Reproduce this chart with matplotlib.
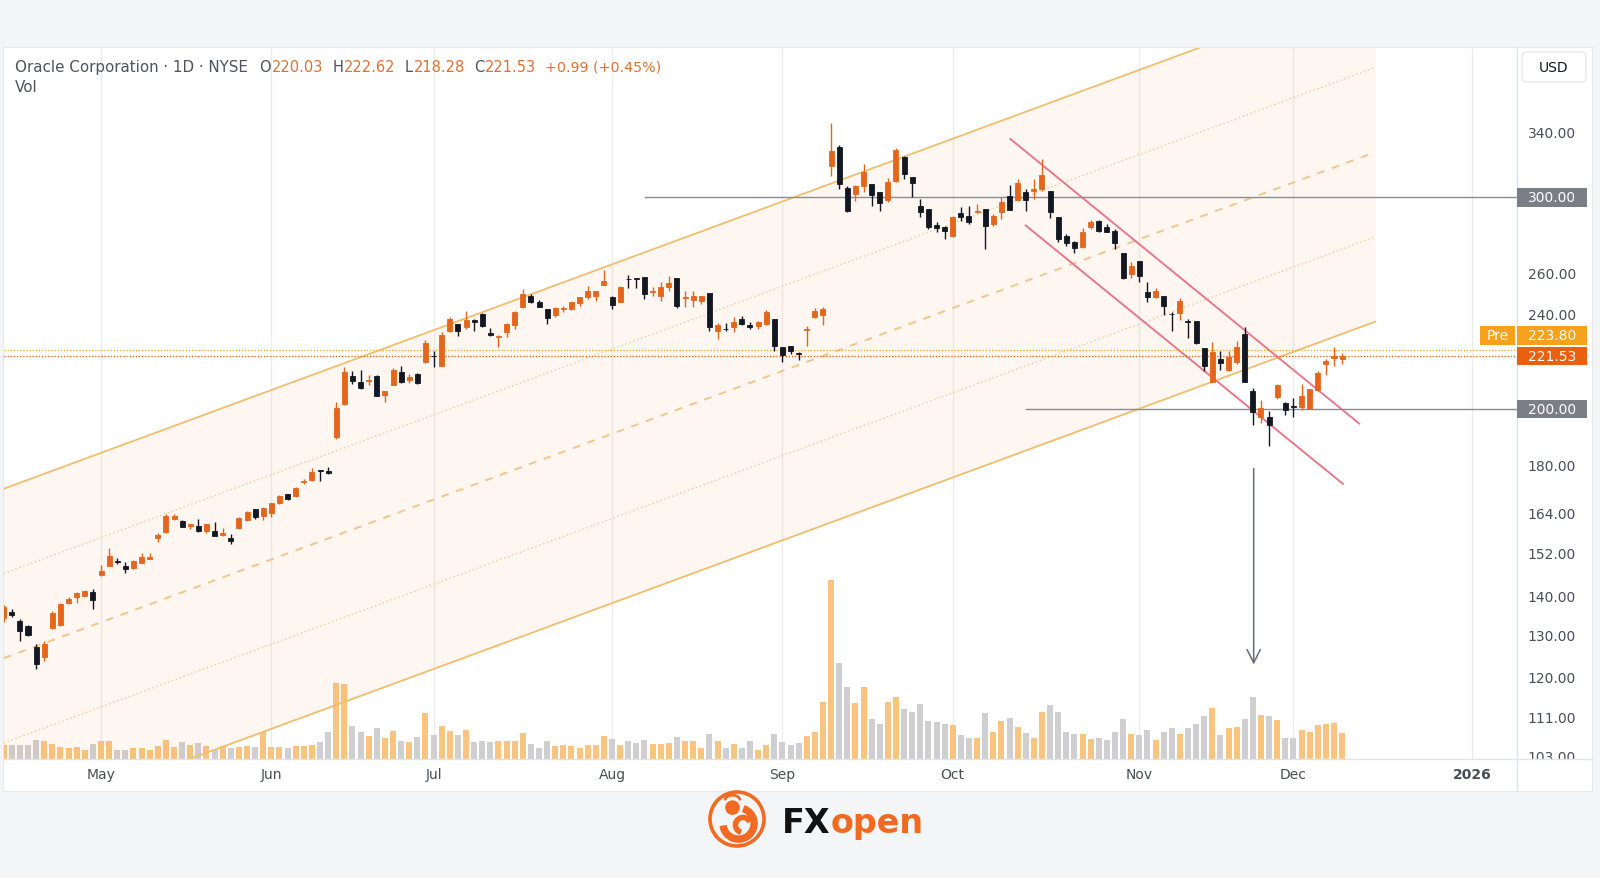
import numpy as np
import pandas as pd
import matplotlib
matplotlib.use("Agg")
import matplotlib.pyplot as plt
from matplotlib.patches import Rectangle, FancyBboxPatch, Circle, Wedge, Arc
from matplotlib.transforms import IdentityTransform
from matplotlib.ticker import NullLocator

plt.rcParams['font.family'] = ['DejaVu Sans']

# ORCL daily bars, 14 Apr 2025 .. 9 Dec 2025
opens = [134.0, 135.7, 133.3, 132.0, 127.0, 124.4, 131.5, 132.3, 137.9, 139.5, 140.0, 141.1,
         145.5, 148.3, 149.6, 148.1, 147.5, 149.1, 150.3, 156.2, 158.0, 162.2, 161.6, 160.0, 159.8, 158.5, 158.5,
         157.3, 156.2, 159.3, 161.8, 165.2, 163.1,
         164.0, 167.0, 170.1, 169.4, 173.9, 174.7, 178.0, 177.7, 189.5, 202.0, 213.2, 210.8, 211.0, 213.2, 205.5,
         209.5, 214.9, 211.6, 213.9, 218.8,
         221.6, 217.4, 232.4, 235.4, 233.9, 237.2, 240.0, 231.3, 229.8, 232.0, 235.0, 243.1, 248.5, 245.7, 242.3,
         239.5, 242.5, 242.3, 245.1, 247.8, 248.2, 253.8,
         248.1, 245.7, 256.6, 257.0, 257.4, 250.3, 248.2, 252.5, 257.1, 247.6, 246.6, 245.9, 249.7, 232.4, 233.4,
         233.9, 237.7, 235.0, 234.6, 235.4, 237.7,
         225.4, 225.8, 222.7, 232.8, 238.5, 239.7, 318.7, 330.2, 305.4, 301.9, 306.8, 307.8, 303.3, 298.7, 309.7,
         323.9, 312.1, 295.3, 293.4, 284.5, 283.3,
         278.5, 291.2, 289.3, 291.5, 293.4, 285.1, 291.5, 300.6, 298.7, 303.3, 303.8, 304.8, 303.8, 289.1, 278.5,
         275.3, 272.7, 283.3, 286.9, 283.3, 281.4, 269.5, 259.1,
         265.4, 250.1, 247.8, 248.5, 240.1, 240.4, 236.6, 236.9, 224.9, 210.8, 220.2, 215.7, 218.8, 231.0, 207.2,
         196.9, 196.9, 204.7, 202.3,
         201.2, 200.7, 200.1, 207.6, 218.1, 220.5, 220.03]
highs = [137.5, 136.5, 133.8, 132.3, 127.5, 128.3, 136.0, 138.0, 139.5, 141.1, 141.6, 141.9,
         148.5, 153.3, 150.5, 149.2, 149.8, 152.0, 152.0, 157.9, 163.7, 163.7, 161.8, 160.7, 162.0, 160.6, 161.2,
         159.2, 157.4, 162.7, 164.7, 165.3, 165.8,
         167.2, 169.7, 170.2, 172.4, 174.9, 178.8, 178.1, 179.2, 202.7, 216.7, 215.0, 215.7, 213.5, 213.5, 207.3,
         216.3, 217.1, 213.9, 214.2, 228.5,
         223.7, 231.7, 238.5, 235.6, 241.5, 237.7, 240.3, 233.5, 230.5, 235.9, 241.5, 251.7, 249.3, 246.4, 242.5,
         243.1, 243.8, 245.6, 247.9, 253.3, 251.0, 261.2,
         248.5, 253.0, 258.6, 257.1, 257.6, 252.5, 255.0, 258.2, 257.2, 250.9, 250.9, 248.6, 249.8, 235.9, 235.9,
         238.5, 238.9, 236.5, 236.9, 242.0, 237.8,
         225.5, 225.9, 223.3, 234.4, 242.6, 243.4, 345.9, 331.6, 306.8, 307.2, 319.8, 307.9, 303.4, 311.1, 329.5,
         324.9, 312.2, 299.1, 293.5, 286.0, 284.2,
         289.7, 294.4, 295.3, 296.2, 293.5, 290.6, 300.0, 307.2, 310.7, 304.8, 310.7, 322.9, 303.9, 289.2, 279.7,
         276.1, 282.9, 287.3, 287.3, 285.1, 282.4, 269.6, 265.2,
         265.5, 255.0, 252.1, 248.6, 240.8, 247.4, 237.7, 237.0, 225.0, 227.3, 223.7, 223.7, 228.0, 233.9, 208.1,
         203.7, 199.4, 209.9, 202.7,
         204.3, 209.9, 208.0, 215.3, 220.2, 225.2, 222.62]
lows = [133.0, 134.5, 128.4, 129.5, 121.6, 123.6, 131.3, 132.0, 137.7, 138.1, 139.8, 136.5,
        145.3, 148.2, 148.8, 146.2, 147.3, 149.0, 150.1, 155.1, 157.8, 161.7, 159.6, 159.0, 158.1, 157.7, 156.8,
        157.0, 154.5, 159.1, 161.6, 162.1, 161.8,
        162.7, 166.8, 168.2, 169.1, 173.4, 174.4, 174.4, 176.7, 189.1, 201.6, 210.0, 208.0, 209.5, 205.0, 202.9,
        209.3, 210.5, 210.2, 210.1, 218.6,
        217.0, 217.1, 231.7, 230.0, 233.2, 232.4, 234.3, 230.3, 225.2, 229.5, 233.2, 242.6, 245.2, 243.2, 235.4,
        238.7, 241.0, 242.0, 243.8, 247.0, 246.2, 253.7,
        242.3, 245.5, 252.1, 252.1, 247.0, 248.5, 246.2, 251.0, 242.6, 243.1, 243.1, 244.6, 232.4, 228.8, 232.4,
        231.7, 235.2, 233.2, 233.2, 235.0, 223.7,
        219.0, 222.3, 219.9, 225.8, 238.0, 235.0, 312.7, 304.8, 291.8, 298.1, 303.2, 295.3, 292.5, 297.2, 309.1,
        310.7, 300.0, 288.8, 282.6, 280.9, 277.0,
        277.9, 286.9, 285.1, 291.3, 271.8, 284.2, 287.8, 292.8, 298.1, 292.5, 299.1, 303.8, 288.2, 275.6, 273.2,
        269.7, 272.3, 282.4, 280.6, 280.6, 271.8, 256.6, 256.9,
        255.3, 245.4, 247.4, 239.7, 232.4, 237.4, 229.1, 226.8, 215.3, 210.6, 215.7, 215.3, 218.1, 210.6, 194.0,
        194.8, 186.3, 203.9, 197.9,
        197.2, 199.8, 200.0, 207.2, 213.5, 217.4, 218.28]
closes = [136.9, 134.9, 130.8, 129.9, 122.8, 127.6, 135.4, 137.7, 139.1, 140.8, 141.3, 138.8,
          146.8, 151.1, 149.4, 147.3, 149.6, 150.6, 150.8, 157.2, 163.0, 163.0, 159.6, 160.5, 158.4, 160.5, 157.0,
          157.7, 155.5, 162.4, 164.2, 162.6, 165.7,
          167.0, 169.4, 168.4, 171.9, 174.4, 177.4, 177.8, 176.9, 200.3, 214.9, 211.2, 208.2, 211.4, 205.2, 207.2,
          215.7, 210.6, 212.6, 210.3, 226.9,
          221.3, 230.5, 237.7, 232.4, 237.2, 236.5, 234.7, 230.5, 230.1, 235.4, 241.0, 249.3, 245.4, 243.4, 238.0,
          242.6, 242.8, 245.4, 247.8, 250.6, 250.9, 255.8,
          244.1, 252.8, 256.4, 256.8, 249.3, 250.6, 252.8, 254.5, 243.8, 247.9, 248.5, 248.5, 234.2, 235.0, 233.2,
          236.2, 235.4, 233.9, 236.5, 240.8, 225.8,
          221.9, 223.7, 222.2, 233.3, 241.5, 242.3, 328.0, 307.8, 292.1, 306.8, 314.7, 301.4, 296.6, 308.8, 328.5,
          313.7, 308.4, 291.5, 283.3, 282.8, 281.4,
          288.8, 288.8, 286.0, 292.5, 284.2, 289.3, 297.2, 293.0, 308.4, 298.7, 304.8, 313.3, 291.5, 277.0, 274.9,
          272.1, 280.6, 286.3, 281.1, 280.9, 274.9, 256.9, 262.9,
          257.9, 248.1, 250.9, 243.8, 240.0, 246.2, 236.5, 227.0, 217.4, 223.0, 218.5, 220.9, 225.4, 210.8, 198.8,
          200.3, 194.0, 209.5, 199.8,
          201.0, 205.2, 207.9, 214.3, 219.4, 221.6, 221.53]
# volume, millions of shares
volumes = [9.6, 9.8, 9.8, 9.8, 13.7, 13.2, 10.8, 8.3, 7.4, 8.3, 5.9, 10.8,
           13.2, 13.2, 6.1, 6.1, 7.9, 7.9, 6.1, 9.0, 13.7, 8.3, 12.3, 9.8, 11.5, 9.0, 6.6, 9.0, 7.4, 8.3, 9.0,
           8.3, 19.3,
           8.3, 8.3, 7.4, 9.0, 9.0, 9.8, 12.0, 19.3, 55.1, 54.6, 23.7, 19.3, 16.4, 22.1, 14.7, 20.1, 12.7, 12.0,
           15.7, 33.1,
           17.6, 23.7, 20.1, 17.6, 21.3, 12.0, 12.7, 12.0, 12.7, 12.7, 13.2, 18.6, 10.8, 7.9, 12.7, 9.0, 9.8, 9.0,
           7.9, 9.8, 9.8, 16.4,
           14.5, 9.8, 12.7, 11.5, 13.5, 10.8, 10.8, 11.5, 15.7, 12.7, 12.7, 7.4, 17.9, 12.7, 7.9, 10.8, 7.9, 12.7,
           6.6, 9.8, 17.9,
           12.0, 9.6, 11.5, 16.4, 19.8, 41.4, 131.0, 70.3, 52.4, 40.9, 52.4, 28.7, 25.7, 41.4, 45.3, 36.0, 34.3,
           40.4, 27.2, 26.7, 25.2,
           24.5, 17.1, 14.9, 14.9, 33.1, 19.8, 27.2, 30.1, 23.0, 18.6, 14.9, 33.8, 39.0, 33.8, 19.3, 17.9, 17.9,
           14.2, 14.9, 13.7, 19.3, 28.7, 17.9,
           17.1, 20.8, 13.7, 19.8, 22.1, 17.9, 22.1, 25.0, 30.9, 36.8, 17.1, 22.1, 23.0, 28.7, 45.3, 32.3, 30.9,
           28.2, 14.9,
           14.9, 20.8, 19.8, 24.5, 25.2, 25.9, 18.6]

holidays = ['2025-04-18', '2025-05-26', '2025-06-19', '2025-07-04', '2025-09-01',
            '2025-11-27', '2025-12-25', '2026-01-01']
level_lines = [300.0, 200.0]
price_ticks = [103, 111, 120, 130, 140, 152, 164, 180, 240, 260, 340]
pre_price = 223.80
last_close = 221.53
change_txt = '+0.99 (+0.45%)'

# drawn objects (bar-index, price)
chan_x = [0, 169.1]
chan_mid = [124.2, 327.1]
chan_step = 1.176
red_upper = ([124.1, 167.1], [335.5, 194.6])
red_lower = ([126.0, 165.1], [284.3, 173.4])
arrow_x, arrow_from, arrow_to = 154.1, 178.6, 122.7

cal = pd.bdate_range('2025-04-14', '2026-01-09')
cal = cal[~cal.isin(pd.to_datetime(holidays))]
n = len(closes)
x = np.arange(n)
o, h, l, c = map(np.array, (opens, highs, lows, closes))
up = c >= o

tick_pos, tick_lbl = [], []
for i in range(1, len(cal)):
    if cal[i].month != cal[i - 1].month:
        tick_pos.append(i)
        tick_lbl.append(str(cal[i].year) if cal[i].month == 1 else cal[i].strftime('%b'))

UP, DOWN = '#e4661c', '#131722'
VUP, VDOWN = '#f9c47f', '#cfcfd1'
LINE = '#e0e3eb'
TXT = '#4a4d57'

W, H = 1600, 879
fig = plt.figure(figsize=(16, 8.79), dpi=100, facecolor='#f4f5f7')


def fx(px):
    return px / W


def fy(py):
    return 1 - py / H


def pix_rect(x0, y0, x1, y1, **kw):
    fig.add_artist(Rectangle((x0, H - y1), x1 - x0, y1 - y0, transform=IdentityTransform(), **kw))


pix_rect(3.3, 48, 1591.7, 791.7, fc='white', ec='#e6e8ec', lw=0.8, zorder=-5)

rect = [fx(4), fy(759.5), (1516.5 - 4) / W, (759.5 - 49) / H]
ax_v = fig.add_axes(rect)
ax = fig.add_axes(rect, sharex=ax_v)
for a in (ax_v, ax):
    a.set_facecolor('none')
    for s in a.spines.values():
        s.set_visible(False)

xmax = 186.5
ax_v.set_xlim(0.04, xmax)

# volume overlay
ax_v.bar(x, volumes, width=0.74, color=np.where(up, VUP, VDOWN), linewidth=0)
ax_v.set_ylim(0, max(volumes) / 0.251)
ax_v.set_yticks([])
ax_v.set_xticks(tick_pos, tick_lbl)
ax_v.tick_params(axis='x', length=0, pad=6, labelsize=10, labelcolor=TXT)
ax_v.get_xticklabels()[-1].set_fontweight('bold')
ax_v.grid(axis='x', color='#ececee', lw=1)
ax_v.set_axisbelow(True)

# price pane
ax.set_yscale('log')
ax.set_ylim(102.5, 399.3)
ax.set_yticks(price_ticks, [f'{t:.2f}' for t in price_ticks])
ax.yaxis.set_minor_locator(NullLocator())
ax.yaxis.tick_right()
ax.tick_params(axis='y', length=0, pad=8, labelsize=10, labelcolor=TXT)
ax.tick_params(axis='x', bottom=False, labelbottom=False)
ax.grid(False)

# regression channel
cm = np.array(chan_mid)
ax.fill_between(chan_x, cm / chan_step ** 2, cm * chan_step ** 2, color='#f8a05a', alpha=0.09, lw=0, zorder=1)
for k in (-2, 2):
    ax.plot(chan_x, cm * chan_step ** k, color='#f0be6e', lw=1.3, zorder=2)
for k in (-1, 1):
    ax.plot(chan_x, cm * chan_step ** k, color='#f3c994', lw=1.0, ls=(0, (1, 2)), zorder=2)
ax.plot(chan_x, cm, color='#f2c68c', lw=1.4, ls=(0, (4, 4)), zorder=2)

# falling channel
ax.plot(*red_upper, color='#e8788c', lw=1.4, zorder=2)
ax.plot(*red_lower, color='#e8788c', lw=1.4, zorder=2)

# levels
ax.plot([79.1, xmax], [level_lines[0]] * 2, color='#8a8c94', lw=1.0, zorder=2)
ax.plot([126.0, xmax], [level_lines[1]] * 2, color='#8a8c94', lw=1.0, zorder=2)
ax.axhline(pre_price, color='#f5a623', lw=0.9, ls=(0, (1, 1.5)), zorder=2)
ax.axhline(last_close, color='#e8590c', lw=0.9, ls=(0, (1, 1.5)), zorder=2)

# candles
cols = np.where(up, UP, DOWN)
ax.vlines(x, l, h, colors=cols, lw=1.0, zorder=3)
ax.bar(x, np.abs(c - o), bottom=np.minimum(o, c), width=0.62, color=cols, edgecolor=cols, lw=0.6, zorder=4)

ax.annotate('', xy=(arrow_x, arrow_to), xytext=(arrow_x, arrow_from),
            arrowprops=dict(arrowstyle='->,head_length=0.6,head_width=0.3', color='#6a6d78', lw=1.1,
                            mutation_scale=16, shrinkA=0, shrinkB=0), zorder=5)

# frame lines
pix_rect(1517, 760.3, 1591, 791, fc='white', ec='none', zorder=2)
fig.add_artist(plt.Line2D([fx(3.3), fx(1591.7)], [fy(759.5)] * 2, color=LINE, lw=1, zorder=3))
fig.add_artist(plt.Line2D([fx(1516.5)] * 2, [fy(48), fy(791.7)], color=LINE, lw=1, zorder=3))


def price_py(p):
    return H - ax.transData.transform((1, p))[1]


def axis_box(py, text, fc, x0=1517, x1=1587):
    pix_rect(x0, py - 9.2, x1, py + 9.2, fc=fc, ec='none', zorder=4)
    fig.text(fx((x0 + x1) / 2), fy(py), text, color='white', fontsize=10, ha='center', va='center', zorder=5)


for lv in level_lines:
    axis_box(price_py(lv), f'{lv:.2f}', '#7c7e86')
close_py = price_py(last_close)
axis_box(close_py - 20.5, f'{pre_price:.2f}', '#f7a11d')
axis_box(close_py - 20.5, 'Pre', '#f7a11d', 1480, 1515)
axis_box(close_py, f'{last_close:.2f}', '#e9600f')

# currency box
fig.add_artist(FancyBboxPatch((1522, H - 83), 64, 30, boxstyle='round,pad=0,rounding_size=5',
                              transform=IdentityTransform(), fc='white', ec='#e6e8ee', lw=1, zorder=4))
fig.text(fx(1554), fy(68), 'USD', fontsize=10, color='#131722', ha='center', va='center', zorder=5)

# header legend, laid out left to right
rend = fig.canvas.get_renderer()


def text_run(x0, y0, parts):
    xx = x0
    for s, col, size, gap in parts:
        t = fig.text(fx(xx), fy(y0), s, color=col, fontsize=size, ha='left', va='center')
        xx += t.get_window_extent(renderer=rend).width + gap
    return xx


OR = '#e2702f'
GR = '#50535e'
parts = [('Oracle Corporation · 1D · NYSE', GR, 10.9, 11)]
for key, val in [('O', opens[-1]), ('H', highs[-1]), ('L', lows[-1]), ('C', closes[-1])]:
    parts += [(key, GR, 10.5, 1), (f'{val:.2f}', OR, 10.5, 9)]
parts.append((change_txt, OR, 10.3, 0))
text_run(15.3, 67.3, parts)
fig.text(fx(15.3), fy(87.8), 'Vol', fontsize=10.9, color=GR, ha='left', va='center')

# FXopen logo
LOGO = '#f26a21'
ax_l = fig.add_axes([fx(707), fy(850), 60 / W, 60 / H])
ax_l.set_xlim(-1, 1)
ax_l.set_ylim(-1, 1)
ax_l.axis('off')
ax_l.add_patch(Circle((0, 0), 0.9, fill=False, ec=LOGO, lw=2.6))
ax_l.add_patch(Wedge((0.05, -0.15), 0.62, 190, 70, width=0.2, color=LOGO))
ax_l.add_patch(Circle((-0.15, 0.38), 0.22, color=LOGO))
ax_l.add_patch(Wedge((0.2, -0.2), 0.32, 30, 250, width=0.14, color=LOGO))
ax_l.add_patch(Arc((-0.15, 0.62), 0.5, 0.35, theta1=0, theta2=180, color=LOGO, lw=2))
t_fx = fig.text(fx(782), fy(824), 'FX', fontsize=24, fontweight='bold', color='#111111', va='center')
fx_w = t_fx.get_window_extent(renderer=rend).width
fig.text(fx(782 + fx_w), fy(824), 'open', fontsize=24, fontweight='bold', color=LOGO, va='center')

fig.savefig('out.png', dpi=100, facecolor=fig.get_facecolor())
